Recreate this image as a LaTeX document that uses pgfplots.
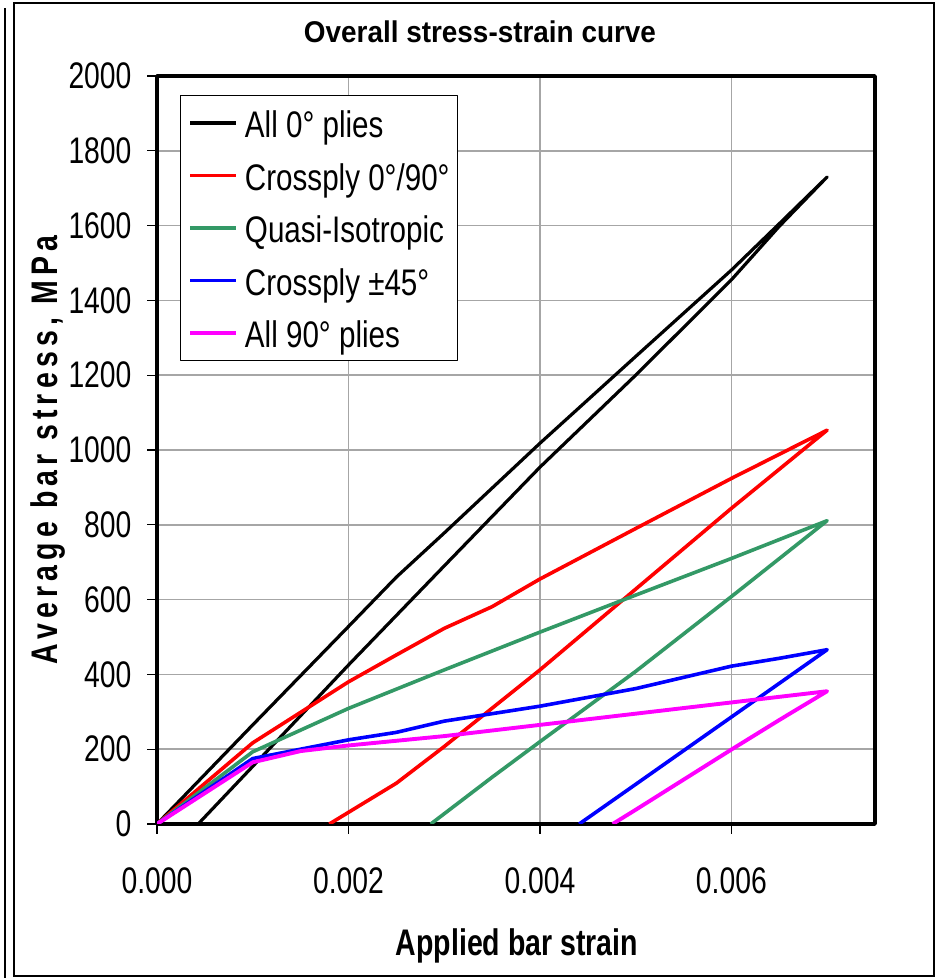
\documentclass[border=0pt]{standalone}
\usepackage{fontspec}
\setmainfont{Liberation Sans}[FakeStretch=0.765]
\newfontfamily\legfont{Liberation Sans}[FakeStretch=0.8]
\newfontfamily\titlefont{Liberation Sans}[FakeStretch=0.93]
\newfontfamily\labfont{Liberation Sans}[FakeStretch=0.77]
\newfontfamily\ylabfont{Liberation Sans}[FakeStretch=0.77,LetterSpace=14]
\usepackage{pgfplots}
\pgfplotsset{compat=1.18}
\definecolor{qgreen}{RGB}{51,153,102}
\definecolor{mag}{RGB}{255,0,255}

\begin{document}
\begin{tikzpicture}
\useasboundingbox (0,0) rectangle (937pt,978pt);
\fill[white] (0,0) rectangle (937pt,978pt);
\draw[line width=1.5pt] (14pt,2pt) rectangle (934pt,975pt);
\draw[line width=1.5pt] (5pt,0pt) -- (5pt,970pt);
\begin{axis}[
  at={(157pt,154pt)}, anchor=south west,
  scale only axis, width=718pt, height=748pt,
  xmin=0, xmax=0.0075, ymin=0, ymax=2000,
  xtick={0,0.002,0.004,0.006},
  ytick={0,200,...,2000},
  scaled x ticks=false,
  xticklabel style={/pgf/number format/.cd, fixed, fixed zerofill, precision=3},
  yticklabel style={/pgf/number format/1000 sep={}},
  /pgf/number format/assume math mode=true,
  tick label style={font=\fontsize{37}{42}\selectfont},
  xticklabel shift=30pt, yticklabel shift=12pt,
  grid=major, grid style={color=black!35, line width=1.5pt},
  axis line style={line width=3.5pt},
  tick pos=left, tick align=outside, major tick length=10pt,
  tick style={black, line width=1.2pt},
  legend style={at={(0.032,0.9746)}, anchor=north west, draw=black, line width=1pt,
    fill=white, inner xsep=8pt, inner ysep=5pt, font=\legfont\fontsize{37}{42}\selectfont,
    row sep=7.5pt, nodes={text height=37pt, text depth=8pt, inner sep=0pt},
    /tikz/every odd column/.append style={column sep=7pt}},
  legend cell align=left,
  legend image code/.code={\draw[#1, line width=3.5pt] (0pt,0pt) -- (46pt,0pt);},
  line join=round,
]
\addplot[black, line width=3.2pt] coordinates {
(0,0) (0.001,265) (0.002,528) (0.0025,660) (0.003,778) (0.0035,898) (0.004,1018)
(0.005,1250) (0.006,1481) (0.0065,1605) (0.007,1730)
(0.0065,1598) (0.006,1455) (0.005,1200) (0.004,954) (0.003,690) (0.002,425)
(0.001,154) (0.00043,0)};
\addlegendentry{All 0° plies}
\addplot[red, line width=3.6pt] coordinates {
(0,0) (0.001,217) (0.002,380) (0.0025,452) (0.003,523) (0.0035,581) (0.004,655)
(0.005,790) (0.006,924) (0.007,1053)
(0.006,844) (0.005,628) (0.004,412) (0.003,207) (0.0025,109) (0.0018,0)};
\addlegendentry{Crossply 0°/90°}
\addplot[qgreen, line width=3.6pt] coordinates {
(0,0) (0.001,193) (0.002,309) (0.003,412) (0.004,513) (0.005,612) (0.006,710) (0.007,811)
(0.006,608) (0.005,408) (0.004,220) (0.0035,125) (0.00286,0)};
\addlegendentry{Quasi-Isotropic}
\addplot[blue, line width=3.6pt] coordinates {
(0,0) (0.001,175) (0.002,225) (0.0025,245) (0.003,275) (0.004,315) (0.005,362)
(0.006,422) (0.0065,443) (0.007,466)
(0.006,286) (0.005,106) (0.00441,0)};
\addlegendentry{Crossply ±45°}
\addplot[mag, line width=3.9pt] coordinates {
(0,0) (0.001,165) (0.0015,195) (0.002,210) (0.003,235) (0.0035,250) (0.004,265)
(0.005,295) (0.006,325) (0.007,355)
(0.0065,278) (0.006,199) (0.005,38) (0.00476,0)};
\addlegendentry{All 90° plies}
\end{axis}
\node[anchor=base, font=\titlefont\bfseries\fontsize{30}{36}\selectfont] at (480pt,935pt) {Overall stress-strain curve};
\node[anchor=base, font=\labfont\bfseries\fontsize{37}{44}\selectfont] at (517pt,23pt) {Applied bar strain};
\node[anchor=base, rotate=90, font=\ylabfont\bfseries\fontsize{37}{44}\selectfont] at (57pt,528pt) {Average bar stress, MPa};
\end{tikzpicture}
\end{document}
